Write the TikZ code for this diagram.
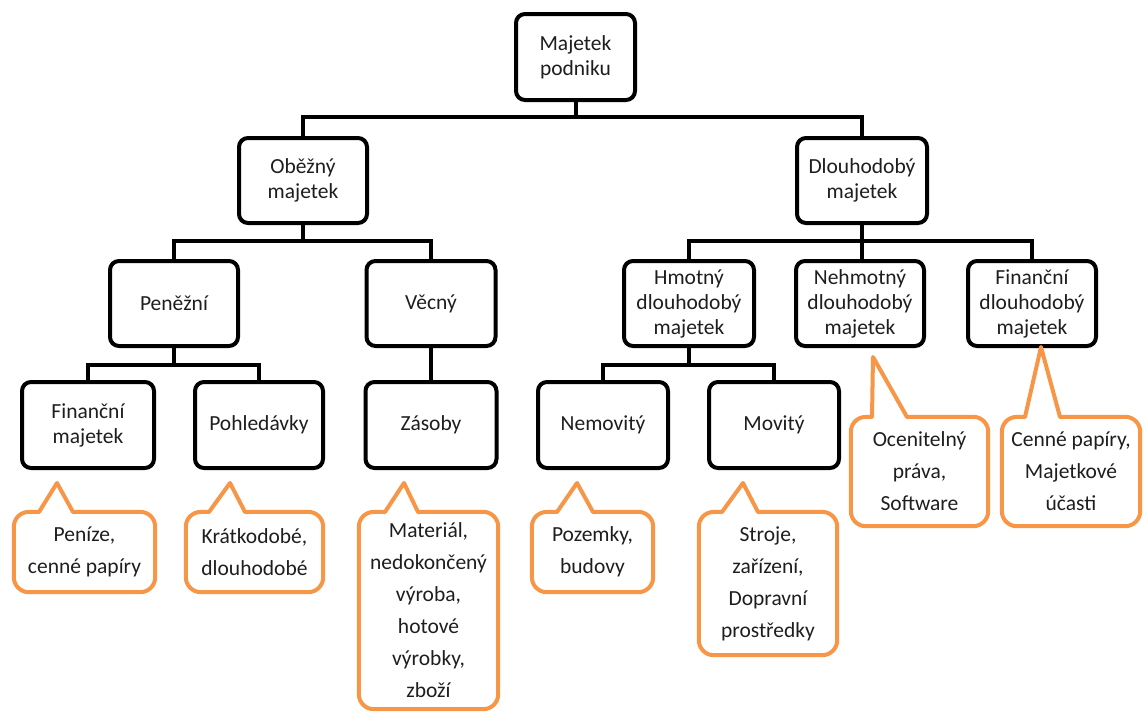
\documentclass[tikz,border=0pt]{standalone}
\usepackage{fontspec}
\setmainfont{Carlito}
\usetikzlibrary{calc}

\definecolor{inktext}{RGB}{30,30,30}
\definecolor{noteorange}{RGB}{247,150,70}

\tikzset{
  treebox/.style={draw=black, line width=4pt, rounded corners=9pt, fill=white,
    inner sep=0pt, align=center, text=inktext,
    font=\fontsize{21.5}{25}\selectfont},
  link/.style={draw=black, line width=4pt},
  bubbletext/.style={inner sep=0pt, align=center, text=inktext,
    font=\fontsize{21.5}{32}\selectfont},
  bubbleline/.style={draw=noteorange, line width=4pt, line join=round}
}

% callout: name, left, top, right, bottom, pointer base left, pointer base right, tip, text
\newcommand{\bubble}[9]{%
  \node[bubbletext, minimum width={#4-#2}, minimum height={#5-#3}]
    (#1) at ({(#2+#4)/2},{(#3+#5)/2}) {#9};
  \draw[bubbleline] (#2,{(#3+#5)/2}) [rounded corners=15pt] -- (#1.north west)
    [sharp corners] -- (#6,#3) -- (#8) -- (#7,#3) [rounded corners=15pt]
    -- (#1.north east) -- (#1.south east) -- (#1.south west) -- cycle;
}

\begin{document}
\begin{tikzpicture}[x=1pt, y=-1pt]
\useasboundingbox (0,0) rectangle (1144,715);

% tree boxes
\node[treebox, minimum width=119, minimum height=86] (root) at (575.5,57) {Majetek\\podniku};

\node[treebox, minimum width=128, minimum height=85] (obez) at (303,180.5) {Oběžný\\majetek};
\node[treebox, minimum width=130, minimum height=85] (dlouh) at (862,180.5) {Dlouhodobý\\majetek};

\node[treebox, minimum width=128, minimum height=85] (penez) at (174,303.5) {Peněžní};
\node[treebox, minimum width=129, minimum height=85] (vecny) at (431,303.5) {Věcný};
\node[treebox, minimum width=130, minimum height=85] (hmot) at (689,303.5) {Hmotný\\dlouhodobý\\majetek};
\node[treebox, minimum width=128, minimum height=85] (nehm) at (860,303.5) {Nehmotný\\dlouhodobý\\majetek};
\node[treebox, minimum width=128, minimum height=85] (findl) at (1032,303.5) {Finanční\\dlouhodobý\\majetek};

\node[treebox, minimum width=132, minimum height=86] (finmaj) at (88,425) {Finanční\\majetek};
\node[treebox, minimum width=128, minimum height=86] (pohl) at (259,425) {Pohledávky};
\node[treebox, minimum width=131, minimum height=86] (zasoby) at (431,425) {Zásoby};
\node[treebox, minimum width=130, minimum height=86] (nemov) at (603,425) {Nemovitý};
\node[treebox, minimum width=130, minimum height=86] (movit) at (774,425) {Movitý};

% connectors
\draw[link] (root.south) -- ++(0,15) -| (obez.north);
\draw[link] (root.south) -- ++(0,15) -| (dlouh.north);

\draw[link] (obez.south) -- ++(0,16) -| (penez.north);
\draw[link] (obez.south) -- ++(0,16) -| (vecny.north);

\draw[link] (dlouh.south) -- ++(0,16) -| (hmot.north);
\draw[link] (dlouh.south) -- (nehm.north -| dlouh.south);
\draw[link] (dlouh.south) -- ++(0,16) -| (findl.north);

\draw[link] (penez.south) -- ++(0,17) -| (finmaj.north);
\draw[link] (penez.south) -- ++(0,17) -| (pohl.north);

\draw[link] (vecny.south) -- (zasoby.north);

\draw[link] (hmot.south) -- ++(0,17) -| (nemov.north);
\draw[link] (hmot.south) -- ++(0,17) -| (movit.north);

% callouts
\bubble{cpenize}{14}{512}{155}{592}{39}{73}{57,483}{Peníze,\\cenné papíry}
\bubble{ckratk}{186}{512}{323}{592}{209}{245}{230,483}{Krátkodobé,\\dlouhodobé}
\bubble{cmater}{359}{512}{498}{709}{385}{418}{404,483}{Materiál,\\nedokončený\\výroba,\\hotové\\výrobky,\\zboží}
\bubble{cpozem}{532}{512}{653}{592}{557}{593}{577,483}{Pozemky,\\budovy}
\bubble{cstroj}{699}{512}{837}{655}{722}{758}{743,483}{Stroje,\\zařízení,\\Dopravní\\prostředky}
\bubble{cocen}{851}{417}{988}{526}{872}{907}{873,357}{Ocenitelný\\práva,\\Software}
\bubble{ccenne}{1002}{417}{1140}{526}{1025}{1060}{1041,347}{Cenné papíry,\\Majetkové\\účasti}

\end{tikzpicture}
\end{document}
